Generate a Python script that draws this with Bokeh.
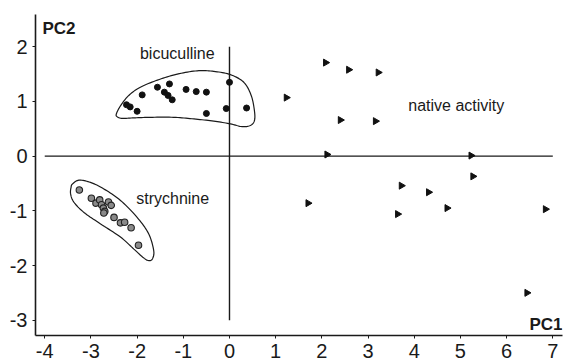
import numpy as np
from bokeh.plotting import figure
from bokeh.models import FixedTicker, Label, Range1d
from bokeh.embed import file_html
from bokeh.resources import INLINE

# ---- data ----
bic_x = [-2.23, -2.15, -2.00, -1.89, -1.56, -1.30, -1.41, -1.33, -1.24, -0.94, -0.72, -0.50, -0.50, 0.00, -0.07, 0.37]
bic_y = [0.94, 0.90, 0.82, 1.12, 1.26, 1.32, 1.17, 1.11, 1.03, 1.22, 1.18, 1.17, 0.78, 1.35, 0.87, 0.88]

str_x = [-3.25, -2.99, -2.89, -2.81, -2.77, -2.73, -2.70, -2.72, -2.62, -2.56, -2.50, -2.36, -2.27, -2.13, -1.97]
str_y = [-0.62, -0.77, -0.86, -0.80, -0.89, -0.95, -1.01, -1.04, -0.84, -0.90, -1.12, -1.22, -1.21, -1.31, -1.63]

nat_x = [2.08, 2.58, 3.22, 1.23, 2.40, 3.16, 2.11, 5.23, 5.27, 3.72, 4.31, 1.70, 3.64, 4.71, 6.84, 6.44]
nat_y = [1.71, 1.58, 1.53, 1.07, 0.66, 0.64, 0.03, 0.01, -0.37, -0.54, -0.66, -0.86, -1.06, -0.95, -0.97, -2.50]

# outlines of the groups
bic_hull_x = [-2.45, -2.36, -2.18, -1.93, -1.56, -1.13, -0.70, -0.34, 0.02, 0.31, 0.47, 0.54, 0.54, 0.45, 0.27, 0.02, -0.34, -0.77, -1.21, -1.71, -2.07, -2.32, -2.43]
bic_hull_y = [0.77, 0.92, 1.11, 1.26, 1.39, 1.50, 1.56, 1.55, 1.49, 1.35, 1.11, 0.83, 0.65, 0.56, 0.54, 0.59, 0.64, 0.68, 0.71, 0.71, 0.70, 0.69, 0.72]
str_hull_x = [-3.40, -3.26, -3.01, -2.72, -2.36, -2.00, -1.75, -1.64, -1.67, -1.75, -1.86, -2.07, -2.36, -2.79, -3.15, -3.37, -3.44, -3.43]
str_hull_y = [-0.51, -0.44, -0.48, -0.60, -0.81, -1.12, -1.42, -1.73, -1.88, -1.91, -1.86, -1.70, -1.48, -1.24, -1.03, -0.84, -0.69, -0.57]

# reference cross lines
cross_h_x = [-4, 7]
cross_v_y = [-3, 2]

x_ticks = [-4, -3, -2, -1, 0, 1, 2, 3, 4, 5, 6, 7]
x_tick_labels = ["-4", "-3", "-2", "-1", "0", "1", "2", "3", "4", "5", "6", "7"]
y_ticks = [-3, -2, -1, 0, 1, 2]
y_tick_labels = ["-3", "-2", "-1", "0", "1", "2"]

group_labels = ["bicuculline", "strychnine", "native activity"]
group_label_x = [-1.13, -1.23, 4.91]
group_label_y = [1.87, -0.78, 0.92]


def smooth_closed(xs, ys, n=10):
    xs = np.asarray(xs, float)
    ys = np.asarray(ys, float)
    m = len(xs)
    ox, oy = [], []
    for i in range(m):
        p0 = np.array([xs[(i - 1) % m], ys[(i - 1) % m]])
        p1 = np.array([xs[i], ys[i]])
        p2 = np.array([xs[(i + 1) % m], ys[(i + 1) % m]])
        p3 = np.array([xs[(i + 2) % m], ys[(i + 2) % m]])
        for t in np.linspace(0, 1, n, endpoint=False):
            t2, t3 = t * t, t * t * t
            pt = 0.5 * ((2 * p1) + (-p0 + p2) * t + (2 * p0 - 5 * p1 + 4 * p2 - p3) * t2 + (-p0 + 3 * p1 - 3 * p2 + p3) * t3)
            ox.append(pt[0])
            oy.append(pt[1])
    ox.append(ox[0])
    oy.append(oy[0])
    return ox, oy


FONT = "Liberation Sans"
INK = "#1a1a1a"

p = figure(width=567, height=363,
           x_range=Range1d(-4.2, 7.21), y_range=Range1d(-3.28, 2.59),
           output_backend="svg", toolbar_location=None,
           min_border_left=35, min_border_right=5, min_border_top=14, min_border_bottom=28)
p.grid.visible = False
p.outline_line_color = None
p.background_fill_color = "white"

for ax, ticks, labels in ((p.xaxis[0], x_ticks, x_tick_labels), (p.yaxis[0], y_ticks, y_tick_labels)):
    ax.ticker = FixedTicker(ticks=ticks)
    ax.major_label_overrides = {t: l for t, l in zip(ticks, labels)}
    ax.minor_tick_line_color = None
    ax.major_tick_in = 0
    ax.major_tick_out = 3
    ax.axis_line_width = 1.6
    ax.axis_line_color = INK
    ax.major_tick_line_color = INK
    ax.major_label_text_font = FONT
    ax.major_label_text_font_size = "20px"
    ax.major_label_text_color = INK
p.xaxis.major_label_standoff = 5
p.yaxis.major_label_standoff = 5

# cross lines
p.line(cross_h_x, [0, 0], line_color=INK, line_width=1.4)
p.line([0, 0], cross_v_y, line_color=INK, line_width=1.4)

# group outlines
bx, by = smooth_closed(bic_hull_x, bic_hull_y)
sx, sy = smooth_closed(str_hull_x, str_hull_y)
p.line(bx, by, line_color=INK, line_width=1.2)
p.line(sx, sy, line_color=INK, line_width=1.2)

# points
p.scatter(bic_x, bic_y, marker="circle", size=6, fill_color="#111111", line_color="#111111")
p.scatter(str_x, str_y, marker="circle", size=6.5, fill_color="#8a8a8a", line_color="#222222", line_width=1.1)
p.scatter(nat_x, nat_y, marker="triangle", size=7, angle=-np.pi / 2, fill_color="#111111", line_color="#111111")

for t, x, y in zip(group_labels, group_label_x, group_label_y):
    p.add_layout(Label(x=x, y=y, text=t, text_align="center", text_baseline="middle",
                       text_font=FONT, text_font_size="16px", text_color=INK))

p.add_layout(Label(x=-4.05, y=2.51, text="PC2", text_align="left", text_baseline="top",
                   text_font=FONT, text_font_size="17px", text_font_style="bold", text_color=INK))
p.add_layout(Label(x=7.21, y=-2.91, text="PC1", text_align="right", text_baseline="top",
                   text_font=FONT, text_font_size="17px", text_font_style="bold", text_color=INK))

open("out.html", "w").write(file_html(p, INLINE))
